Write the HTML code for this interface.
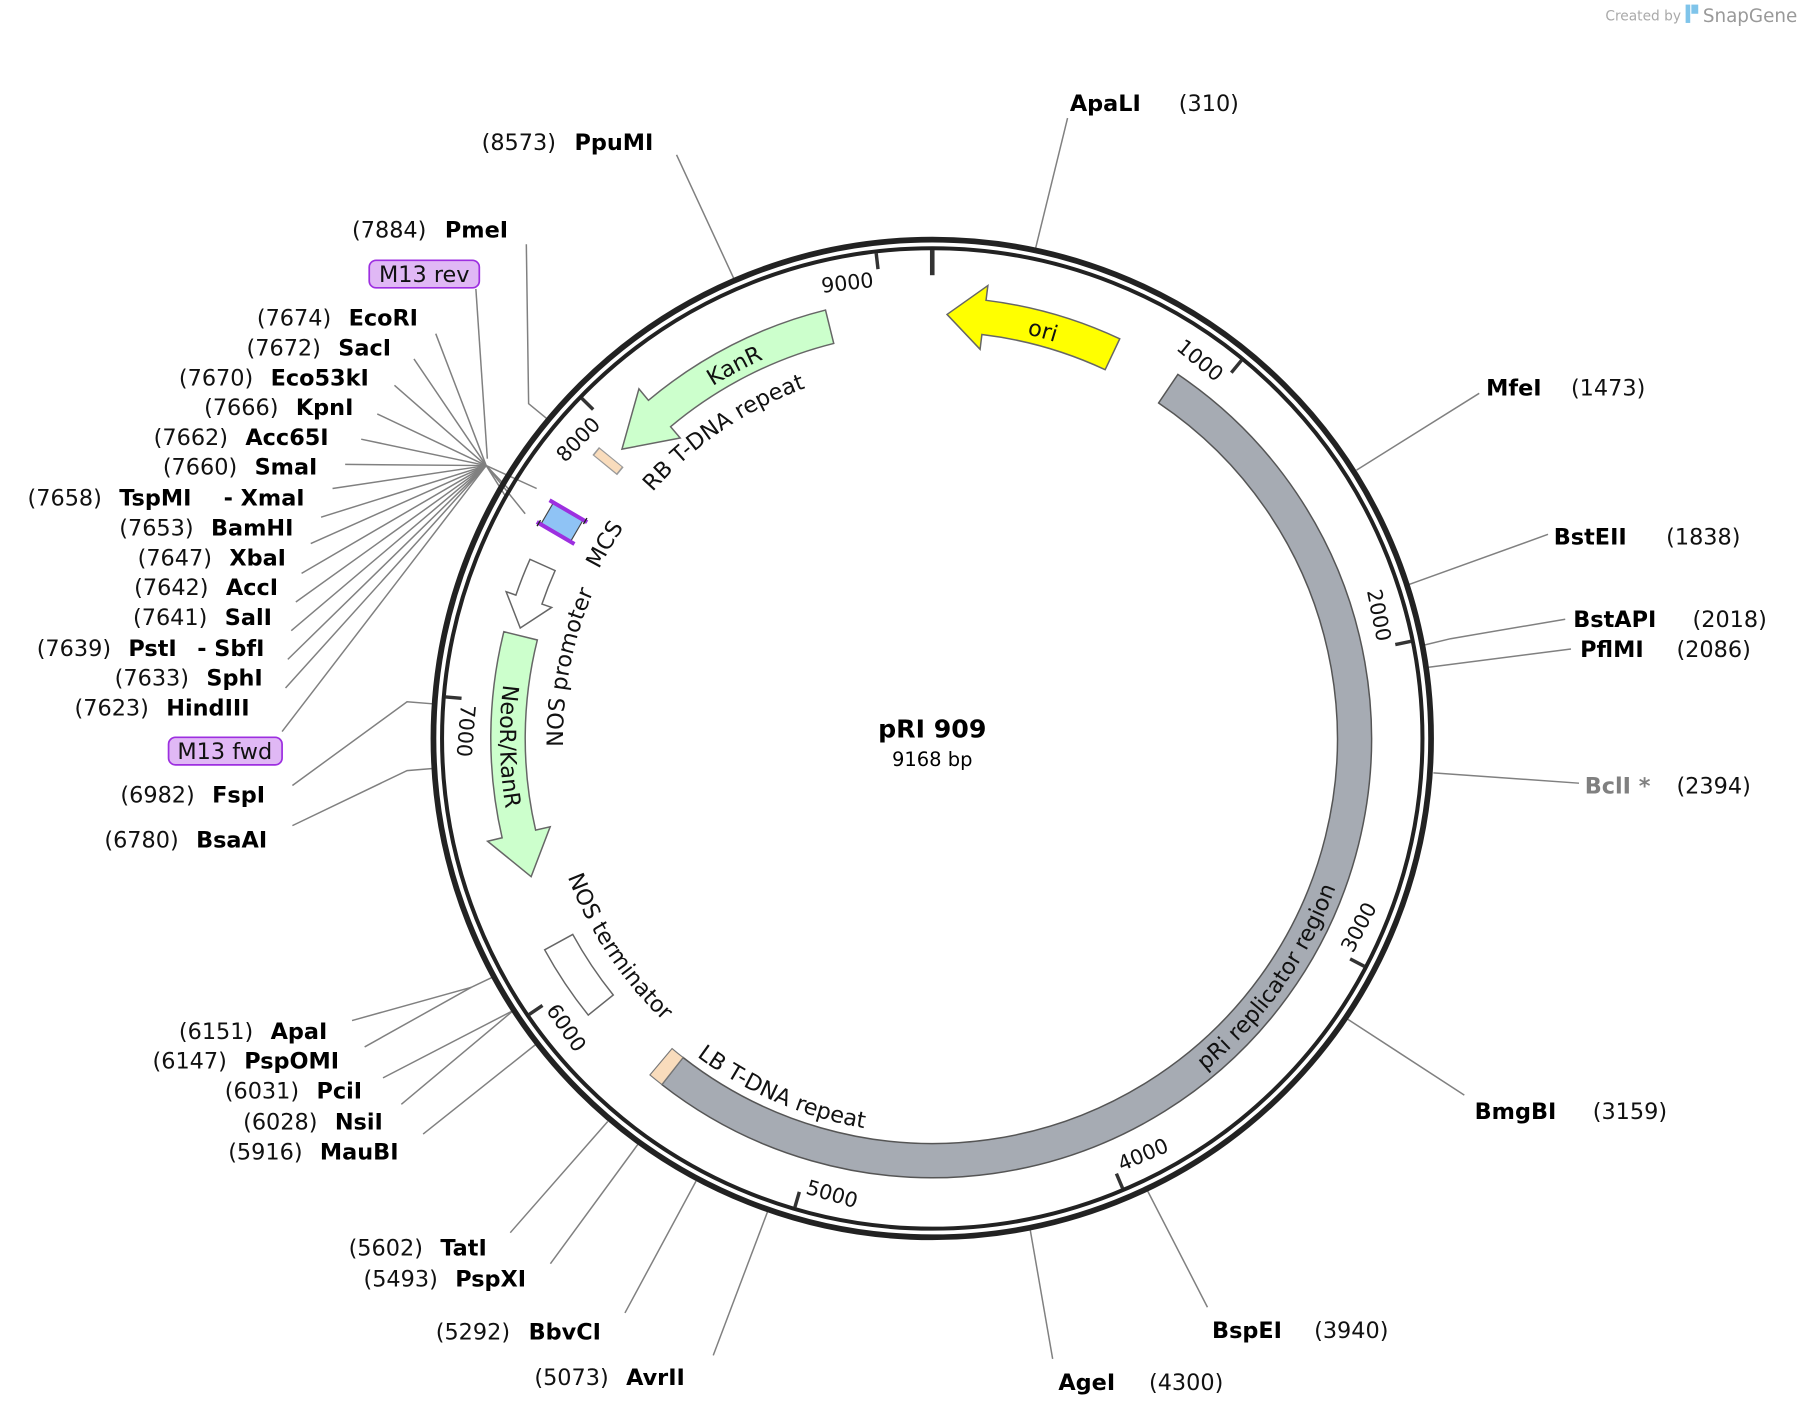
<!DOCTYPE html>
<html><head><meta charset="utf-8"><style>
html,body{margin:0;padding:0;background:#fff;}
svg{display:block;}
text{font-family:"DejaVu Sans","Liberation Sans",sans-serif;}
.n{font-size:19.5px;fill:#111;}
.b{font-size:19.5px;font-weight:bold;fill:#000;}
.t{font-size:18px;fill:#111;}
.f{font-size:19.5px;fill:#111;}
.l{stroke:#808080;stroke-width:1.3;fill:none;}
</style></head><body>
<svg width="1798" height="1418" viewBox="0 0 1568 1236.6" xmlns="http://www.w3.org/2000/svg">
<defs>
<path id="cw325" d="M813,319 A325,325 0 1 1 813,969 A325,325 0 1 1 813,319"/>
<path id="cw362" d="M813,282 A362,362 0 1 1 813,1006 A362,362 0 1 1 813,282"/>
<path id="cw326" d="M813,318 A326,326 0 1 1 813,970 A326,326 0 1 1 813,318"/>
<path id="cw322" d="M813,322 A322,322 0 1 1 813,966 A322,322 0 1 1 813,322"/>
<path id="ccw377" d="M813,1021 A377,377 0 1 0 813,267 A377,377 0 1 0 813,1021"/>
<path id="ccw340" d="M813,984 A340,340 0 1 0 813,304 A340,340 0 1 0 813,984"/>
<path id="ccw345" d="M813,989 A345,345 0 1 0 813,299 A345,345 0 1 0 813,989"/>
<path id="ccw375" d="M813,1019 A375,375 0 1 0 813,269 A375,375 0 1 0 813,1019"/>
</defs>

<text x="1400" y="18" style="font-size:12px;fill:#aaa">Created by</text>
<rect x="1470" y="4" width="4" height="16" fill="#7fc4ea"/><rect x="1475" y="4" width="6" height="8" fill="#7fc4ea"/>
<text x="1485" y="19" style="font-size:16px;fill:#999">SnapGene</text>

<g class="l">
<polyline points="590,135 640,243"/>
<polyline points="931,103 903,217"/>
<polyline points="459,213 461,352 478,366"/>
<polyline points="415,252 425,400"/>
<polyline points="380,291 424,406"/>
<polyline points="361,313 424,406"/>
<polyline points="344,336 424,406"/>
<polyline points="329,361 424,406"/>
<polyline points="315,383 424,406"/>
<polyline points="301,405 424,406"/>
<polyline points="290,426 424,406"/>
<polyline points="280,451 424,406"/>
<polyline points="271,474 424,406"/>
<polyline points="263,500 424,406"/>
<polyline points="258,525 424,406"/>
<polyline points="254,550 424,406"/>
<polyline points="251,575 424,406"/>
<polyline points="249,600 424,406"/>
<polyline points="246,638 424,406"/>
<polyline points="424,406 444,427"/>
<polyline points="424,406 441,433"/>
<polyline points="424,406 468,426"/>
<polyline points="424,406 458,448"/>
<polyline points="255,685 355,612 380,614"/>
<polyline points="255,720 355,672 380,670"/>
<polyline points="307,890 411,861 430,852"/>
<polyline points="318,913 411,861"/>
<polyline points="334,940 448,881"/>
<polyline points="350,963 448,881"/>
<polyline points="369,989 467,911"/>
<polyline points="445,1075 530,978"/>
<polyline points="480,1102 557,997"/>
<polyline points="545,1145 607,1030"/>
<polyline points="622,1182 670,1055"/>
<polyline points="918,1185 898,1070"/>
<polyline points="1053,1140 1000,1037"/>
<polyline points="1277,955 1174,888"/>
<polyline points="1377,683 1250,674"/>
<polyline points="1370,566 1245,582"/>
<polyline points="1365,540 1265,557 1240,563"/>
<polyline points="1350,466 1228,510"/>
<polyline points="1290,343 1183,410"/>
</g>

<circle cx="813" cy="644" r="435" fill="none" stroke="#222" stroke-width="5"/>
<circle cx="813" cy="644" r="427.5" fill="none" stroke="#222" stroke-width="3.5"/>

<g stroke="#333" stroke-width="3">
<line x1="813" y1="218" x2="813" y2="240" stroke-width="4"/>
<line x1="1082.7" y1="314.2" x2="1073.8" y2="325"/>
<line x1="1230.5" y1="559.3" x2="1216.8" y2="562.1"/>
<line x1="1189.8" y1="842.7" x2="1177.4" y2="836.2"/>
<line x1="979" y1="1036.3" x2="973.6" y2="1023.5"/>
<line x1="693.2" y1="1052.8" x2="697.1" y2="1039.4"/>
<line x1="461.5" y1="884.7" x2="473.1" y2="876.8"/>
<line x1="388.5" y1="607.8" x2="402.5" y2="609"/>
<line x1="507.3" y1="347.3" x2="517.3" y2="357.1"/>
<line x1="764.1" y1="220.8" x2="765.7" y2="234.7"/>
</g>
<g class="t">
<text x="808" y="247" text-anchor="end" transform="rotate(353.4 813 644)">9000</text>
<text x="808" y="247" text-anchor="end" transform="rotate(39.27 813 644)">1000</text>
<text x="808" y="247" text-anchor="end" transform="rotate(78.53 813 644)">2000</text>
<text x="808" y="247" text-anchor="end" transform="rotate(314.14 813 644)">8000</text>
<text x="818" y="1056" transform="rotate(-62.2 813 644)">3000</text>
<text x="818" y="1056" transform="rotate(-22.93 813 644)">4000</text>
<text x="818" y="1056" transform="rotate(16.34 813 644)">5000</text>
<text x="818" y="1056" transform="rotate(55.6 813 644)">6000</text>
<text x="818" y="1056" transform="rotate(94.87 813 644)">7000</text>
</g>

<path d="M1027.2,326.5 A383,383 0 1 1 577.2,945.8 L595.7,922.2 A353,353 0 1 0 1010.4,351.4 Z" fill="#a6abb3" stroke="#555" stroke-width="1.3"/>
<path d="M577.2,945.8 A383,383 0 0 1 566.8,937.4 L586.1,914.4 A353,353 0 0 0 595.7,922.2 Z" fill="#f9dcbc" stroke="#777" stroke-width="1"/>
<path d="M976.5,295.5 A385,385 0 0 0 859.9,261.9 L861.5,249 L825.9,274.2 L854.7,304.6 L856.3,291.7 A355,355 0 0 1 963.8,322.4 Z" fill="#ffff00" stroke="#666" stroke-width="1.3"/>
<path d="M719.9,270.4 A385,385 0 0 0 565.5,349.1 L557.2,339.1 L542.4,391.7 L593.2,382 L584.8,372.1 A355,355 0 0 1 727.1,299.5 Z" fill="#ccffcc" stroke="#666" stroke-width="1.3"/>
<line x1="541" y1="411" x2="519.5" y2="393.3" stroke="#999" stroke-width="9"/>
<line x1="540" y1="410" x2="520.5" y2="394.2" stroke="#f9dcbc" stroke-width="7"/>
<g transform="translate(490.1,455.3) rotate(300.3)">
<rect x="-10" y="-15" width="20" height="30" fill="#8fc3f5" stroke="#444" stroke-width="1"/>
<line x1="-11" y1="-19" x2="-11" y2="19" stroke="#9d2fe0" stroke-width="3.5"/>
<line x1="11" y1="-19" x2="11" y2="19" stroke="#9d2fe0" stroke-width="3.5"/>
<line x1="-14" y1="-17" x2="-8" y2="-17" stroke="#222" stroke-width="1.2"/>
<line x1="8" y1="17" x2="14" y2="17" stroke="#222" stroke-width="1.2"/>
</g>
<path d="M462.2,487.8 A384,384 0 0 0 449.9,519 L441.4,516 L453.7,547.7 L481.1,529.7 L472.6,526.8 A360,360 0 0 1 484.1,497.6 Z" fill="#fff" stroke="#666" stroke-width="1.3"/>
<path d="M439.4,550.9 A385,385 0 0 0 437.9,730.6 L425.2,733.6 L463.2,764.5 L479.8,721 L467.1,723.9 A355,355 0 0 1 468.6,558.1 Z" fill="#ccffcc" stroke="#666" stroke-width="1.3"/>
<path d="M475,828.3 A385,385 0 0 0 513,885.2 L534.8,867.7 A357,357 0 0 1 499.5,814.9 Z" fill="#fff" stroke="#666" stroke-width="1.3"/>

<g class="f">
<text><textPath href="#cw325" startOffset="1847" text-anchor="middle">RB T-DNA repeat</textPath></text>
<text><textPath href="#cw362" startOffset="2097" text-anchor="middle">KanR</textPath></text>
<text><textPath href="#cw362" startOffset="96" text-anchor="middle">ori</textPath></text>
<text><textPath href="#cw326" startOffset="1710" text-anchor="middle">MCS</textPath></text>
<text><textPath href="#cw322" startOffset="1579" text-anchor="middle">NOS promoter</textPath></text>
<text><textPath href="#ccw377" startOffset="1783" text-anchor="middle">NeoR/KanR</textPath></text>
<text><textPath href="#ccw340" startOffset="1801" text-anchor="middle">NOS terminator</textPath></text>
<text><textPath href="#ccw345" startOffset="2027" text-anchor="middle">LB T-DNA repeat</textPath></text>
<text><textPath href="#ccw375" startOffset="357" text-anchor="middle">pRi replicator region</textPath></text>
</g>

<text x="813" y="643" text-anchor="middle" style="font-size:22px;font-weight:bold">pRI 909</text>
<text x="813" y="668" text-anchor="middle" style="font-size:17px">9168 bp</text>

<rect x="322" y="227" width="96" height="24" rx="6" fill="#e0b8f5" stroke="#9d2fe0" stroke-width="1.5"/>
<text x="370" y="246" text-anchor="middle" class="n">M13 rev</text>
<rect x="147" y="643" width="99" height="24" rx="6" fill="#e0b8f5" stroke="#9d2fe0" stroke-width="1.5"/>
<text x="196" y="662" text-anchor="middle" class="n">M13 fwd</text>

<g>
<text class="n" x="420" y="131">(8573)</text><text class="b" x="501" y="131">PpuMI</text>
<text class="b" x="933" y="97">ApaLI</text><text class="n" x="1028" y="97">(310)</text>
<text class="n" x="307" y="207">(7884)</text><text class="b" x="388" y="207">PmeI</text>
<text class="n" x="224" y="284">(7674)</text><text class="b" x="304" y="284">EcoRI</text>
<text class="n" x="215" y="310">(7672)</text><text class="b" x="295" y="310">SacI</text>
<text class="n" x="156" y="336">(7670)</text><text class="b" x="236" y="336">Eco53kI</text>
<text class="n" x="178" y="362">(7666)</text><text class="b" x="258" y="362">KpnI</text>
<text class="n" x="134" y="388">(7662)</text><text class="b" x="214" y="388">Acc65I</text>
<text class="n" x="142" y="414">(7660)</text><text class="b" x="222" y="414">SmaI</text>
<text class="n" x="24" y="441">(7658)</text><text class="b" x="104" y="441">TspMI</text><text class="b" x="195" y="441">- XmaI</text>
<text class="n" x="104" y="467">(7653)</text><text class="b" x="184" y="467">BamHI</text>
<text class="n" x="120" y="493">(7647)</text><text class="b" x="200" y="493">XbaI</text>
<text class="n" x="117" y="519">(7642)</text><text class="b" x="197" y="519">AccI</text>
<text class="n" x="116" y="545">(7641)</text><text class="b" x="196" y="545">SalI</text>
<text class="n" x="32" y="572">(7639)</text><text class="b" x="112" y="572">PstI</text><text class="b" x="172" y="572">- SbfI</text>
<text class="n" x="100" y="598">(7633)</text><text class="b" x="180" y="598">SphI</text>
<text class="n" x="65" y="624">(7623)</text><text class="b" x="145" y="624">HindIII</text>
<text class="n" x="105" y="700">(6982)</text><text class="b" x="185" y="700">FspI</text>
<text class="n" x="91" y="739">(6780)</text><text class="b" x="171" y="739">BsaAI</text>
<text class="n" x="156" y="906">(6151)</text><text class="b" x="236" y="906">ApaI</text>
<text class="n" x="133" y="932">(6147)</text><text class="b" x="213" y="932">PspOMI</text>
<text class="n" x="196" y="958">(6031)</text><text class="b" x="276" y="958">PciI</text>
<text class="n" x="212" y="985">(6028)</text><text class="b" x="292" y="985">NsiI</text>
<text class="n" x="199" y="1011">(5916)</text><text class="b" x="279" y="1011">MauBI</text>
<text class="n" x="304" y="1095">(5602)</text><text class="b" x="384" y="1095">TatI</text>
<text class="n" x="317" y="1122">(5493)</text><text class="b" x="397" y="1122">PspXI</text>
<text class="n" x="380" y="1168">(5292)</text><text class="b" x="461" y="1168">BbvCI</text>
<text class="n" x="466" y="1208">(5073)</text><text class="b" x="546" y="1208">AvrII</text>
<text class="b" x="923" y="1212">AgeI</text><text class="n" x="1002" y="1212">(4300)</text>
<text class="b" x="1057" y="1167">BspEI</text><text class="n" x="1146" y="1167">(3940)</text>
<text class="b" x="1286" y="976">BmgBI</text><text class="n" x="1389" y="976">(3159)</text>
<text x="1382" y="692" style="font-size:19.5px;font-weight:bold;fill:#808080">BclI *</text><text class="n" x="1462" y="692">(2394)</text>
<text class="b" x="1378" y="573">PflMI</text><text class="n" x="1462" y="573">(2086)</text>
<text class="b" x="1372" y="547">BstAPI</text><text class="n" x="1476" y="547">(2018)</text>
<text class="b" x="1355" y="475">BstEII</text><text class="n" x="1453" y="475">(1838)</text>
<text class="b" x="1296" y="345">MfeI</text><text class="n" x="1370" y="345">(1473)</text>
</g>
</svg>
</body></html>
